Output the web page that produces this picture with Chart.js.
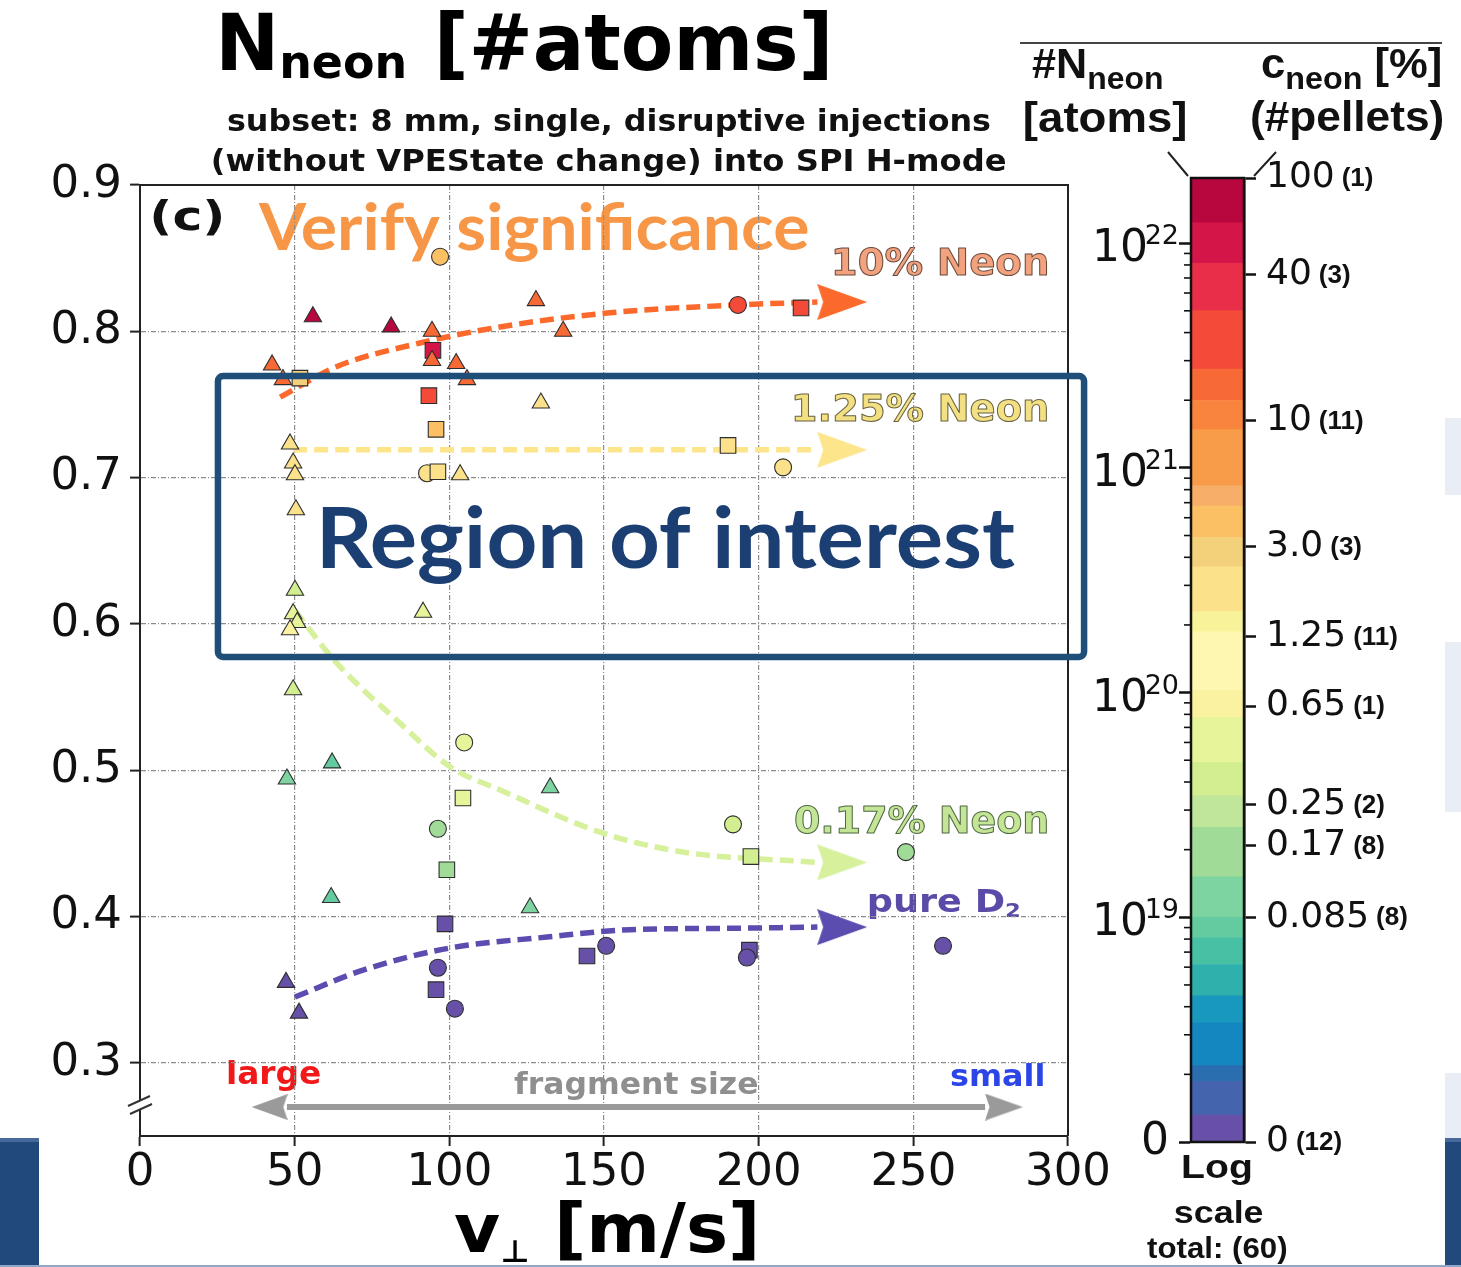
<!DOCTYPE html>
<html>
<head>
<meta charset="utf-8">
<script src="https://cdn.jsdelivr.net/npm/chart.js@4.4.1/dist/chart.umd.min.js"></script>
<style>
  html, body { margin: 0; padding: 0; background: #fff; }
  #wrap { position: relative; width: 1461px; height: 1267px; overflow: hidden; background: #fff; }
  .deco { position: absolute; }
  canvas { position: absolute; top: 0; }
  #main { left: 0; width: 1461px; height: 1267px; }
  #cbar { left: 1000px; width: 461px; height: 1267px; }
</style>
</head>
<body>
<div id="wrap">
  <div class="deco" style="left:0;top:1138px;width:39px;height:129px;background:#22497b"></div>
  <div class="deco" style="left:0;top:1138px;width:39px;height:4px;background:#46689a"></div>
  <div class="deco" style="left:1445px;top:418px;width:16px;height:77px;background:#e9eef6"></div>
  <div class="deco" style="left:1445px;top:642px;width:16px;height:170px;background:#e9eef6"></div>
  <div class="deco" style="left:1445px;top:1073px;width:16px;height:65px;background:#e9eef6"></div>
  <div class="deco" style="left:1445px;top:1138px;width:16px;height:129px;background:#22497b"></div>
  <div class="deco" style="left:1445px;top:1138px;width:16px;height:4px;background:#46689a"></div>
  <div class="deco" style="left:0;top:1265px;width:1461px;height:2px;background:#8fa6c8"></div>
  <canvas id="main" width="1461" height="1267"></canvas>
  <canvas id="cbar" width="461" height="1267"></canvas>
</div>
<script>
// ---- axes ----
const xTicks = [0, 50, 100, 150, 200, 250, 300];
const yTicks = [0.3, 0.4, 0.5, 0.6, 0.7, 0.8, 0.9];

// ---- pellets: perpendicular velocity, measured value, marker shape, log10(N_neon) ----
const ptX = [97.0, 55.9, 81.2, 94.4, 94.7, 94.4, 42.7, 102.2, 46.2, 51.7, 105.7, 93.4, 95.7,
  48.5, 49.5, 50.1, 92.8, 96.3, 103.5, 128.0, 136.8, 193.3, 213.7, 129.6, 190.1, 207.9,
  50.4, 50.1, 49.5, 50.8, 48.5, 91.5, 49.5, 104.8, 62.1, 47.5, 104.4, 96.3, 132.6, 191.7, 197.5, 247.6,
  126.1, 61.8, 99.2, 98.6, 96.3, 95.7, 101.8, 47.2, 51.4, 144.5, 150.7, 197.0, 196.2, 259.6];
const ptY = [0.851, 0.810, 0.803, 0.800, 0.787, 0.780, 0.777, 0.778, 0.767, 0.768, 0.767, 0.756, 0.733,
  0.723, 0.710, 0.702, 0.703, 0.704, 0.702, 0.821, 0.800, 0.818, 0.816, 0.751, 0.722, 0.707,
  0.678, 0.623, 0.607, 0.601, 0.596, 0.608, 0.555, 0.519, 0.505, 0.494, 0.481, 0.460, 0.488, 0.463, 0.441, 0.444,
  0.406, 0.413, 0.432, 0.395, 0.365, 0.350, 0.337, 0.355, 0.334, 0.373, 0.380, 0.377, 0.372, 0.380];
const ptShape = ['circle', 'triangle', 'triangle', 'triangle', 'rect', 'triangle', 'triangle', 'triangle', 'triangle', 'rect', 'triangle', 'rect', 'rect',
  'triangle', 'triangle', 'triangle', 'circle', 'rect', 'triangle', 'triangle', 'triangle', 'circle', 'rect', 'triangle', 'rect', 'circle',
  'triangle', 'triangle', 'triangle', 'triangle', 'triangle', 'triangle', 'triangle', 'circle', 'triangle', 'triangle', 'rect', 'circle', 'triangle', 'circle', 'rect', 'circle',
  'triangle', 'triangle', 'rect', 'rect', 'circle', 'rect', 'circle', 'triangle', 'triangle', 'rect', 'circle', 'rect', 'circle', 'circle'];
const ptLogN = [20.75, 22.2, 22.2, 21.35, 22.0, 21.35, 21.35, 21.35, 21.35, 20.62, 21.35, 21.5, 20.75,
  20.4, 20.4, 20.4, 20.4, 20.4, 20.4, 21.35, 21.35, 21.5, 21.5, 20.4, 20.4, 20.4,
  20.4, 19.6, 19.8, 19.8, 19.95, 19.8, 19.6, 19.8, 18.95, 19.1, 19.8, 19.3, 19.1, 19.6, 19.6, 19.3,
  19.1, 18.95, 19.3, 18.05, 18.05, 18.05, 18.05, 18.05, 18.05, 18.05, 18.05, 18.05, 18.05, 18.05];

// ---- guide curves for each neon concentration ----
const trend10X = [45.3, 63.7, 90.5, 116.4, 151.0, 192.7, 219.0];
const trend10Y = [0.755, 0.776, 0.792, 0.803, 0.8125, 0.818, 0.820];
const trend125X = [49.5, 219.0];
const trend125Y = [0.719, 0.719];
const trend017X = [50.1, 63.7, 83.1, 100.5, 116.4, 149.7, 175.9, 219.0];
const trend017Y = [0.609, 0.573, 0.534, 0.502, 0.4865, 0.457, 0.444, 0.437];
const trendD2X = [50.1, 72.1, 100.2, 131.6, 158.4, 192.7, 219.0];
const trendD2Y = [0.345, 0.3634, 0.3785, 0.386, 0.391, 0.392, 0.3928];
const trendColors = ['#fb6a2c', '#fde58c', '#d6f09c', '#5b4cb0'];
const headX = [227.0, 227.0, 227.0, 227.0];
const headY = [0.820, 0.719, 0.437, 0.3928];

// fragment-size arrow
const fragX = [47.5, 273.2];
const fragY = [0.2698, 0.2698];
const fragHeadX = [41.9, 279.3];

// "Region of interest" box (data units)
const regionX = [25.2, 305.2];
const regionY = [0.5774, 0.7694];

// ---- colour bar: band edges in log10(N_neon), colours bottom to top ----
const cbEdges = [18.0, 18.12, 18.27, 18.34, 18.53, 18.65, 18.79, 18.91, 19.0, 19.18, 19.40, 19.54, 19.69, 19.89,
  20.01, 20.27, 20.36, 20.56, 20.69, 20.83, 20.92, 21.17, 21.30, 21.44, 21.70, 21.91, 22.09, 22.29];
const cbColors = ['#6650a8', '#4464ae', '#2a6eb0', '#1486c0', '#1898bc', '#2fb0ac', '#48c0a4', '#64cba0',
  '#7ed4a0', '#a0dc98', '#bfe69a', '#d2ee90', '#e8f49a', '#faf2a0', '#fdf7b2', '#f8f29a', '#fbe28a',
  '#f3d07a', '#fbc064', '#f7ae68', '#f99c4a', '#f8843e', '#f86a35', '#f44a3a', '#e82e48', '#d41547', '#b8063f'];
const cbDecades = [18, 19, 20, 21, 22];
const cbLevelPos = [18.0, 19.0, 19.32, 19.5, 19.94, 20.25, 20.65, 21.21, 21.86, 22.29];
const cbLevelLabel = ['0', '0.085', '0.17', '0.25', '0.65', '1.25', '3.0', '10', '40', '100'];
const cbLevelCount = [12, 8, 8, 2, 1, 11, 3, 11, 3, 1];
const cbMin = 18, cbMax = 22.29;

const DV = "'DejaVu Sans', sans-serif";
const LS = "'Liberation Sans', Arial, sans-serif";
const LATO = "Lato, 'Open Sans', sans-serif";

function bandColor(v) {
  for (let i = 0; i < cbColors.length; i++) if (v < cbEdges[i + 1]) return cbColors[i];
  return cbColors[cbColors.length - 1];
}
const shapeRadius = { triangle: 10, rect: 11, circle: 8.5 };

function arrowHead(color, len, h, dir) {
  const c = document.createElement('canvas');
  c.width = len; c.height = h;
  const g = c.getContext('2d');
  g.fillStyle = color;
  g.beginPath();
  if (dir > 0) { g.moveTo(0, 0); g.lineTo(len, h / 2); g.lineTo(0, h); g.lineTo(len * 0.12, h / 2); }
  else { g.moveTo(len, 0); g.lineTo(0, h / 2); g.lineTo(len, h); g.lineTo(len * 0.88, h / 2); }
  g.closePath(); g.fill();
  return c;
}

// text whose ink box starts at x (or is centred / right-aligned on x), sized by cap height, squeezed to width w
function inkText(ctx, text, o) {
  ctx.save();
  const wt = o.weight || 'bold';
  let size = o.size;
  if (o.cap) { ctx.font = `${wt} 100px ${o.family}`; size = o.cap / ctx.measureText('H').actualBoundingBoxAscent * 100; }
  ctx.font = `${wt} ${size}px ${o.family}`;
  ctx.textAlign = 'left'; ctx.textBaseline = 'alphabetic';
  const m = ctx.measureText(text);
  const inkW = m.actualBoundingBoxLeft + m.actualBoundingBoxRight;
  const sx = o.w ? o.w / inkW : 1;
  let x0 = o.x;
  if (o.align === 'center') x0 -= inkW * sx / 2;
  else if (o.align === 'right') x0 -= inkW * sx;
  ctx.translate(x0, o.base); ctx.scale(sx, 1);
  ctx.fillStyle = o.color || '#000';
  ctx.fillText(text, m.actualBoundingBoxLeft, 0);
  if (o.stroke) { ctx.lineWidth = o.strokeW || 1; ctx.strokeStyle = o.stroke; ctx.lineJoin = 'round'; ctx.strokeText(text, m.actualBoundingBoxLeft, 0); }
  ctx.restore();
}

// mixed runs (subscripts) on one baseline
function inkRuns(ctx, runs, o) {
  ctx.save();
  const wt = o.weight || 'bold';
  ctx.font = `${wt} 100px ${o.family}`;
  const size = o.cap / ctx.measureText('H').actualBoundingBoxAscent * 100;
  const fonts = runs.map(r => `${r.weight || wt} ${size * (r.rel || 1)}px ${r.family || o.family}`);
  const ms = runs.map((r, i) => { ctx.font = fonts[i]; return ctx.measureText(r.t); });
  let total = 0; ms.forEach(m => total += m.width);
  const first = ms[0], last = ms[ms.length - 1];
  const inkW = total - (last.width - last.actualBoundingBoxRight) + first.actualBoundingBoxLeft;
  const sx = o.w ? o.w / inkW : 1;
  let x0 = o.x;
  if (o.align === 'center') x0 -= inkW * sx / 2;
  ctx.translate(x0, o.base); ctx.scale(sx, 1);
  ctx.textAlign = 'left'; ctx.textBaseline = 'alphabetic';
  let cx = first.actualBoundingBoxLeft;
  runs.forEach((r, i) => {
    ctx.font = fonts[i];
    ctx.fillStyle = r.color || o.color || '#000';
    ctx.fillText(r.t, cx, (r.dy || 0) * size);
    cx += ms[i].width;
  });
  ctx.restore();
}

// labels that sit under the grid
const underLayer = {
  id: 'underLayer',
  beforeDraw(chart) {
    const ctx = chart.ctx;
    inkText(ctx, '(c)', { x: 153, base: 230, cap: 30, w: 69, family: DV, color: '#111' });
    inkText(ctx, 'Verify significance', { x: 258, base: 250, cap: 47, w: 550, family: LATO, color: '#f79646' });
    inkText(ctx, '10% Neon', { x: 835, base: 275, cap: 27, w: 212, family: DV, color: '#f2a27f', stroke: '#6b4a3a', strokeW: 1 });
    inkText(ctx, '1.25% Neon', { x: 795, base: 421, cap: 27, w: 252, family: DV, color: '#f2e083', stroke: '#6b6340', strokeW: 1 });
    inkText(ctx, '0.17% Neon', { x: 795, base: 833, cap: 27, w: 252, family: DV, color: '#c5e596', stroke: '#4f6a44', strokeW: 1 });
    inkRuns(ctx, [{ t: 'pure D' }, { t: '2', rel: 0.62, dy: 0.16 }], { x: 869, base: 912, cap: 23, w: 150, family: DV, color: '#5b4aa8' });
    inkText(ctx, 'large', { x: 228, base: 1084, cap: 23, w: 92, family: DV, color: '#f01818' });
    inkText(ctx, 'fragment size', { x: 514, base: 1094, cap: 22, w: 243, family: DV, color: '#8f8f8f' });
    inkText(ctx, 'small', { x: 951, base: 1086, cap: 22, w: 92, family: DV, color: '#2b45e6' });
  }
};

// frame, axis break, region box, titles
const overLayer = {
  id: 'overLayer',
  afterDraw(chart) {
    const ctx = chart.ctx, a = chart.chartArea, sx = chart.scales.x, sy = chart.scales.y;
    ctx.save();
    ctx.strokeStyle = '#222'; ctx.lineWidth = 2;
    ctx.beginPath(); ctx.moveTo(a.left, a.top); ctx.lineTo(a.right, a.top); ctx.lineTo(a.right, a.bottom); ctx.stroke();
    // axis break
    ctx.fillStyle = '#fff';
    ctx.beginPath(); ctx.moveTo(128, 1106); ctx.lineTo(150, 1096); ctx.lineTo(152, 1104); ctx.lineTo(130, 1114); ctx.closePath(); ctx.fill();
    ctx.strokeStyle = '#333'; ctx.lineWidth = 2;
    ctx.beginPath(); ctx.moveTo(128, 1106); ctx.lineTo(150, 1096); ctx.moveTo(130, 1114); ctx.lineTo(152, 1104); ctx.stroke();
    // region box
    const rx0 = sx.getPixelForValue(regionX[0]), rx1 = sx.getPixelForValue(regionX[1]);
    const ry0 = sy.getPixelForValue(regionY[1]), ry1 = sy.getPixelForValue(regionY[0]);
    ctx.strokeStyle = '#1f4e79'; ctx.lineWidth = 6.5; ctx.lineJoin = 'round';
    ctx.beginPath(); ctx.roundRect(rx0, ry0, rx1 - rx0, ry1 - ry0, 5); ctx.stroke();
    ctx.restore();
    inkText(ctx, 'Region of interest', { x: 322, base: 568, cap: 61, w: 693, family: LATO, color: '#1c3f73' });
    // titles
    inkRuns(ctx, [{ t: 'N' }, { t: 'neon', rel: 0.6, dy: 0.1 }, { t: ' [#atoms]' }], { x: 222, base: 70, cap: 57, w: 605, family: DV, color: '#000' });
    inkText(ctx, 'subset: 8 mm, single, disruptive injections', { x: 228, base: 131, cap: 22, w: 762, family: DV, color: '#111' });
    inkText(ctx, '(without VPEState change) into SPI H-mode', { x: 213, base: 171, cap: 22, w: 792, family: DV, color: '#111' });
    inkRuns(ctx, [{ t: 'v' }, { t: '\u22A5', rel: 0.45, dy: 0.14 }, { t: ' [m/s]' }], { x: 455, base: 1252, cap: 50, w: 300, family: DV, color: '#000' });
  }
};

const pointsData = ptX.map((x, i) => ({ x, y: ptY[i] }));
const xy = (xs, ys) => xs.map((x, i) => ({ x, y: ys[i] }));
const trendLine = (xs, ys, color) => ({
  type: 'line', data: xy(xs, ys), borderColor: color, borderWidth: 5.5, borderDash: [14, 7],
  pointRadius: 0, cubicInterpolationMode: 'monotone', fill: false, order: 2
});

new Chart(document.getElementById('main'), {
  type: 'scatter',
  data: {
    datasets: [
      {
        label: 'pellets', data: pointsData,
        pointStyle: ptShape, pointRadius: ptShape.map(s => shapeRadius[s]),
        pointBackgroundColor: ptLogN.map(bandColor), pointBorderColor: '#2e2e2e', pointBorderWidth: 1.1,
        order: 0
      },
      trendLine(trend10X, trend10Y, trendColors[0]),
      trendLine(trend125X, trend125Y, trendColors[1]),
      trendLine(trend017X, trend017Y, trendColors[2]),
      trendLine(trendD2X, trendD2Y, trendColors[3]),
      {
        label: 'heads', data: xy(headX, headY),
        pointStyle: trendColors.map(c => arrowHead(c, 50, 36, 1)), pointRadius: 5, order: 1
      },
      {
        type: 'line', label: 'fragment size', data: xy(fragX, fragY), borderColor: '#9a9a9a', borderWidth: 6,
        pointRadius: 0, order: 3
      },
      {
        label: 'fragment heads', data: xy(fragHeadX, fragY),
        pointStyle: [arrowHead('#9a9a9a', 36, 26, -1), arrowHead('#9a9a9a', 38, 27, 1)], pointRadius: 5, order: 3
      }
    ]
  },
  options: {
    responsive: false, animation: false, events: [], devicePixelRatio: 1,
    layout: { padding: { left: 0, right: 393, top: 185, bottom: 0 } },
    plugins: { legend: { display: false }, tooltip: { enabled: false } },
    scales: {
      x: {
        type: 'linear', min: 0, max: 300,
        afterBuildTicks: s => { s.ticks = xTicks.map(v => ({ value: v })); },
        afterFit: s => { s.height = 131; },
        ticks: { font: { family: DV, size: 45 }, color: '#111', padding: 0, maxRotation: 0, autoSkip: false, callback: v => String(v) },
        grid: { color: '#8c8c8c', lineWidth: 1.2, tickLength: 10, tickColor: '#222', tickWidth: 2 },
        border: { display: true, color: '#222', width: 2, dash: [5, 2, 1, 2] }
      },
      y: {
        type: 'linear', min: 0.25, max: 0.9,
        afterBuildTicks: s => { s.ticks = yTicks.map(v => ({ value: v })); },
        afterFit: s => { s.width = 140; },
        ticks: { font: { family: DV, size: 45 }, color: '#111', padding: 8, autoSkip: false, callback: v => v.toFixed(1) },
        grid: { color: '#8c8c8c', lineWidth: 1.2, tickLength: 10, tickColor: '#222', tickWidth: 2 },
        border: { display: true, color: '#222', width: 2, dash: [5, 2, 1, 2] }
      }
    }
  },
  plugins: [underLayer, overLayer]
});

// ---- colour bar ----
const cbarDecor = {
  id: 'cbarDecor',
  afterDraw(chart) {
    const ctx = chart.ctx, a = chart.chartArea, sL = chart.scales.yL, sR = chart.scales.yR;
    ctx.save();
    // minor log ticks
    ctx.strokeStyle = '#111'; ctx.lineWidth = 1.6;
    cbDecades.forEach(d => {
      for (let k = 2; k <= 9; k++) {
        const v = d + Math.log10(k);
        if (v > sL.max) continue;
        const y = sL.getPixelForValue(v);
        ctx.beginPath(); ctx.moveTo(sL.right - 7, y); ctx.lineTo(sL.right, y); ctx.stroke();
      }
    });
    ctx.lineWidth = 2.5;
    ctx.strokeRect(a.left, a.top, a.right - a.left, a.bottom - a.top);
    // decade labels
    ctx.fillStyle = '#111';
    cbDecades.forEach(d => {
      const y = sL.getPixelForValue(d);
      ctx.textAlign = 'right';
      if (d === 18) {
        ctx.font = `44px ${DV}`; ctx.textBaseline = 'middle';
        ctx.fillText('0', 169, y + 1);
      } else {
        ctx.textBaseline = 'alphabetic';
        ctx.font = `44px ${DV}`; ctx.fillText('10', 148, y + 18);
        ctx.font = `27px ${DV}`; ctx.fillText(String(d), 179, y + 1);
      }
    });
    // pellet counts next to concentration labels
    ctx.textAlign = 'left'; ctx.textBaseline = 'middle';
    cbLevelPos.forEach((v, i) => {
      const y = sR.getPixelForValue(v);
      ctx.font = `36px ${DV}`;
      const w = ctx.measureText(cbLevelLabel[i]).width;
      ctx.font = `bold 26px ${LS}`;
      ctx.fillText(`(${cbLevelCount[i]})`, sR.left + 22 + w + 7, y + 1);
    });
    ctx.restore();
    // header and footer, page coordinates
    ctx.save();
    ctx.translate(-1000, 0);
    ctx.strokeStyle = '#444'; ctx.lineWidth = 2;
    ctx.beginPath(); ctx.moveTo(1020, 43); ctx.lineTo(1442, 43); ctx.stroke();
    ctx.strokeStyle = '#222';
    ctx.beginPath(); ctx.moveTo(1168, 152); ctx.lineTo(1188, 176); ctx.moveTo(1276, 152); ctx.lineTo(1254, 176); ctx.stroke();
    inkRuns(ctx, [{ t: '#N' }, { t: 'neon', rel: 0.74, dy: 0.26 }], { x: 1032, base: 78, cap: 30, w: 130, family: LS, color: '#111' });
    inkText(ctx, '[atoms]', { x: 1025, base: 132, cap: 30, w: 160, family: LS, color: '#111' });
    inkRuns(ctx, [{ t: 'c' }, { t: 'neon', rel: 0.74, dy: 0.26 }, { t: ' [%]' }], { x: 1262, base: 78, cap: 30, w: 178, family: LS, color: '#111' });
    inkText(ctx, '(#pellets)', { x: 1252, base: 131, cap: 30, w: 191, family: LS, color: '#111' });
    inkText(ctx, 'Log', { x: 1217, base: 1178, cap: 23, w: 67, align: 'center', family: LS, color: '#111' });
    inkText(ctx, 'scale', { x: 1219, base: 1223, cap: 22, w: 88, align: 'center', family: LS, color: '#111' });
    inkText(ctx, 'total: (60)', { x: 1217, base: 1258, cap: 20, w: 140, align: 'center', family: LS, color: '#111' });
    ctx.restore();
  }
};

new Chart(document.getElementById('cbar'), {
  type: 'bar',
  data: {
    labels: ['N'],
    datasets: cbColors.map((c, i) => ({
      data: [[cbEdges[i], cbEdges[i + 1]]], backgroundColor: c, borderColor: c, borderWidth: 0,
      borderSkipped: false, grouped: false, barPercentage: 1, categoryPercentage: 1, yAxisID: 'yL'
    }))
  },
  options: {
    responsive: false, animation: false, events: [], devicePixelRatio: 1,
    layout: { padding: { top: 178, bottom: 125, left: 0, right: 0 } },
    plugins: { legend: { display: false }, tooltip: { enabled: false } },
    scales: {
      x: { display: false },
      yL: {
        type: 'linear', position: 'left', min: cbMin, max: cbMax,
        afterBuildTicks: s => { s.ticks = cbDecades.map(v => ({ value: v })); },
        afterFit: s => { s.width = 191; },
        ticks: { display: false, autoSkip: false },
        grid: { drawOnChartArea: false, drawTicks: true, tickLength: 12, tickWidth: 2.5, tickColor: '#111' },
        border: { display: true, color: '#111', width: 2.5 }
      },
      yR: {
        type: 'linear', position: 'right', min: cbMin, max: cbMax,
        afterBuildTicks: s => { s.ticks = cbLevelPos.map(v => ({ value: v })); },
        afterFit: s => { s.width = 217; },
        ticks: { autoSkip: false, callback: (v, i) => cbLevelLabel[i], font: { family: DV, size: 36 }, color: '#111', padding: 10 },
        grid: { drawOnChartArea: false, drawTicks: true, tickLength: 12, tickWidth: 2.5, tickColor: '#111' },
        border: { display: true, color: '#111', width: 2.5 }
      }
    }
  },
  plugins: [cbarDecor]
});
</script>
</body>
</html>
